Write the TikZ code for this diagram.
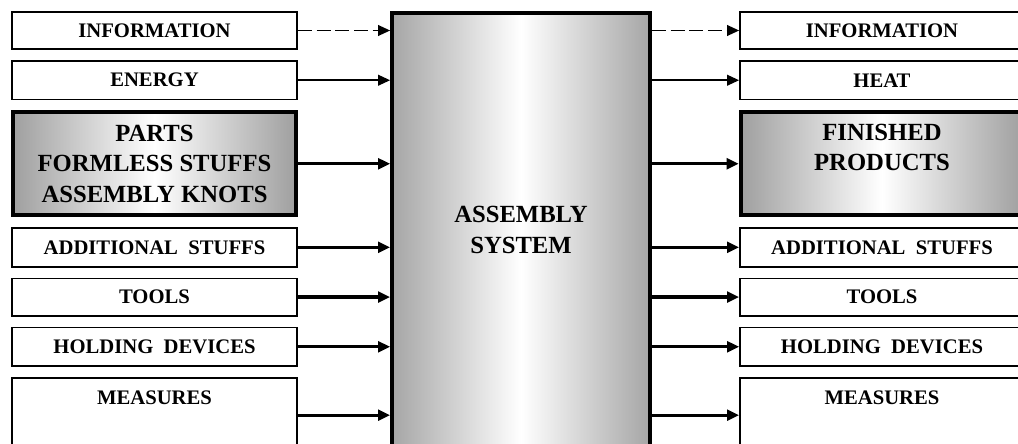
\documentclass[tikz,border=0pt]{standalone}
\usepackage{fontspec}
\setmainfont{Liberation Serif}
\usetikzlibrary{positioning, arrows.meta}

\begin{document}
\begin{tikzpicture}[
  x=0.75pt, y=-0.75pt,
  node distance=7.5pt,
  lbl/.style={font=\fontsize{15.5}{18}\selectfont\bfseries},
  biglbl/.style={font=\fontsize{18.5}{23}\selectfont\bfseries, align=center},
  box/.style={draw, line width=1.3pt, minimum width=214pt, minimum height=28pt, lbl},
  bigbox/.style={draw, line width=3pt, minimum width=212pt, minimum height=77pt, biglbl,
    left color=gray!75, right color=gray!75, middle color=white},
  sysbox/.style={draw, line width=2.8pt, minimum width=193.5pt, minimum height=325pt, biglbl,
    left color=gray!70, right color=gray!70, middle color=white},
  arrow/.style={-{Triangle[length=9pt, width=8pt]}, line width=1.2pt},
  thickarrow/.style={arrow, line width=2.4pt},
  dasharrow/.style={arrow, dash pattern=on 10.5pt off 3.5pt},
]

  \useasboundingbox (0,0) rectangle (1018,443);
  \clip (0,0) rectangle (1018,443);

  % Assembly system
  \node[sysbox] (sys) at (521,230) {ASSEMBLY\\SYSTEM};

  % Inputs
  \node[box] (info) at (154.5,30.5) {INFORMATION};
  \node[box, minimum height=29pt, below=of info] (energy) {ENERGY};
  \node[bigbox, below=of energy] (parts) {PARTS\\FORMLESS STUFFS\\ASSEMBLY KNOTS};
  \node[box, minimum height=29pt, below=of parts] (addl) {ADDITIONAL~ STUFFS};
  \node[box, below=of addl] (tools) {TOOLS};
  \node[box, minimum height=29pt, below=of tools] (hold) {HOLDING~ DEVICES};
  \node[box, minimum height=56pt, below=of hold,
    label={[lbl, anchor=north, yshift=-6.5pt]north:MEASURES}] (meas) {};

  % Outputs
  \node[box, minimum width=213pt] (rinfo) at (882,30.5) {INFORMATION};
  \node[box, minimum width=213pt, minimum height=29pt, below=of rinfo] (heat) {HEAT};
  \node[bigbox, below=of heat,
    label={[biglbl, anchor=north, yshift=-6.5pt]north:FINISHED\\PRODUCTS}] (fin) {};
  \node[box, minimum width=213pt, minimum height=29pt, below=of fin] (raddl) {ADDITIONAL~ STUFFS};
  \node[box, minimum width=213pt, below=of raddl] (rtools) {TOOLS};
  \node[box, minimum width=213pt, minimum height=29pt, below=of rtools] (rhold) {HOLDING~ DEVICES};
  \node[box, minimum width=213pt, minimum height=56pt, below=of rhold,
    label={[lbl, anchor=north, yshift=-6.5pt]north:MEASURES}] (rmeas) {};

  % Input arrows
  \draw[dasharrow] (info.east) -- (info.east -| sys.west);
  \draw[arrow] (energy.east) -- (energy.east -| sys.west);
  \foreach \n in {parts, addl, tools, hold, meas}
    \draw[thickarrow] (\n.east) -- (\n.east -| sys.west);

  % Output arrows
  \draw[dasharrow] (sys.east |- rinfo.west) -- (rinfo.west);
  \draw[arrow] (sys.east |- heat.west) -- (heat.west);
  \foreach \n in {fin, raddl, rtools, rhold, rmeas}
    \draw[thickarrow] (sys.east |- \n.west) -- (\n.west);

\end{tikzpicture}
\end{document}
